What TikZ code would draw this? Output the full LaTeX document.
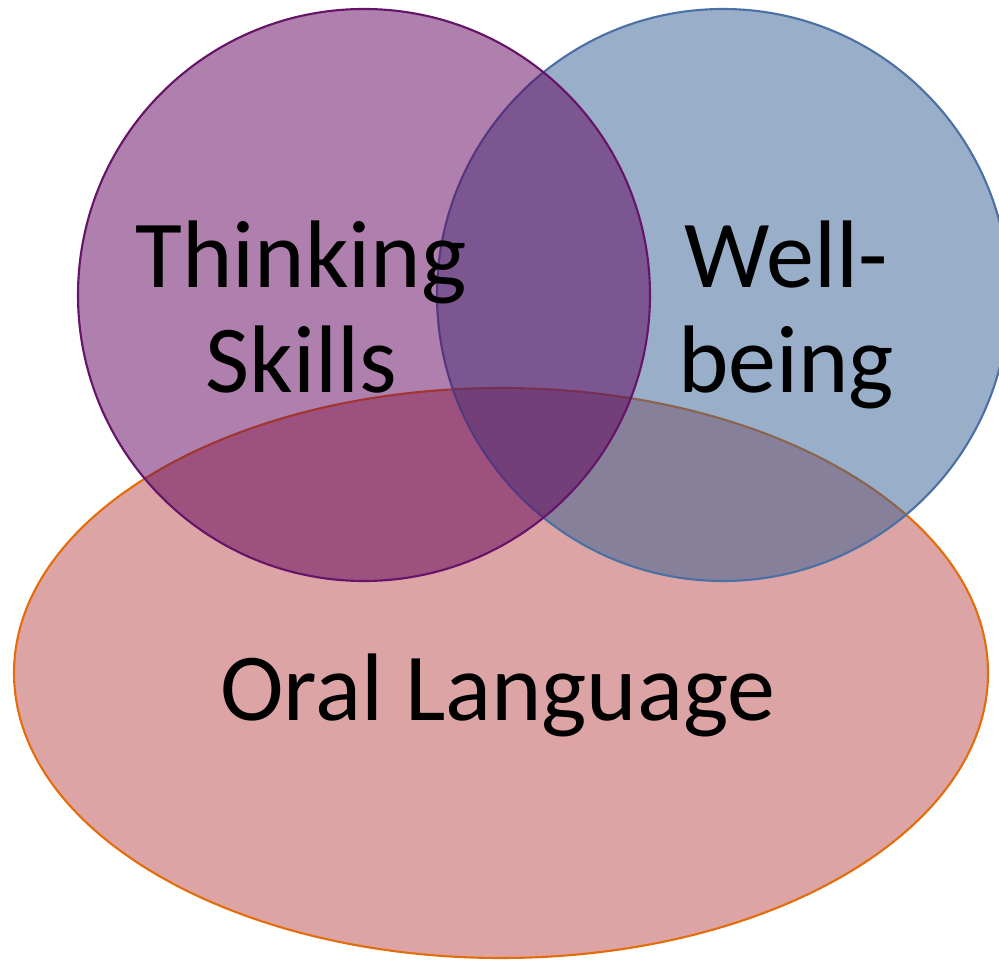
\documentclass[tikz,border=0pt]{standalone}
\usepackage{fontspec}
\setmainfont{Carlito}
\usepackage{tikz}

\definecolor{oralfill}{RGB}{185,73,73}
\definecolor{oralline}{RGB}{228,108,10}
\definecolor{wellfill}{RGB}{51,93,145}
\definecolor{wellline}{RGB}{74,112,164}
\definecolor{thinkfill}{RGB}{95,0,91}
\definecolor{thinkline}{RGB}{102,20,104}

\begin{document}
\begin{tikzpicture}[x=0.01cm, y=-0.01cm,
  venntext/.style={font=\fontsize{27.3}{30}\selectfont, anchor=base, inner sep=0pt}]
  \useasboundingbox (0,0) rectangle (999,961);
  \clip (0,0) rectangle (999,961);
  \draw[line width=0.6pt, draw=oralline, fill=oralfill, fill opacity=0.5] (501,673) ellipse [x radius=487, y radius=285];
  \draw[line width=0.6pt, draw=wellline, fill=wellfill, fill opacity=0.5] (723,295) circle [radius=286];
  \draw[line width=0.6pt, draw=thinkline, fill=thinkfill, fill opacity=0.5] (364,295) circle [radius=286];
  \node[venntext] (thinking) at (301,288) {Thinking};
  \node[venntext] (skills) at (301,393) {Skills};
  \node[venntext] (well) at (786,288) {Well-};
  \node[venntext] (being) at (786,393) {being};
  \node[venntext] (oral) at (498,721) {Oral Language};
\end{tikzpicture}
\end{document}
